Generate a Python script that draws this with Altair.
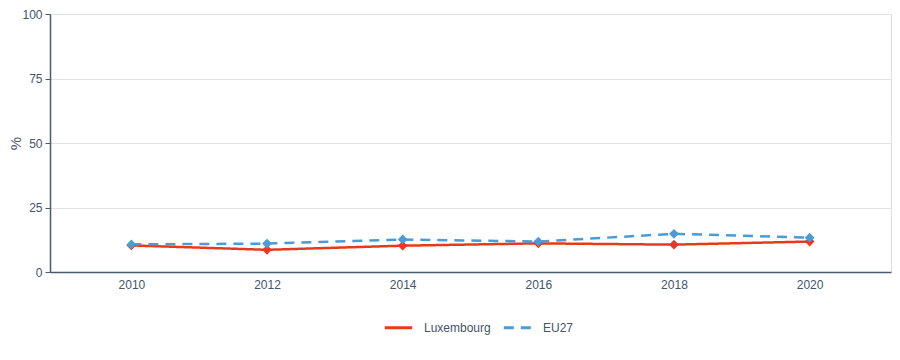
import altair as alt
import pandas as pd

years = [2010, 2012, 2014, 2016, 2018, 2020]
luxembourg = [10.3, 8.6, 10.2, 11.1, 10.6, 11.8]
eu27 = [10.7, 11.0, 12.6, 11.8, 14.8, 13.3]
series = ["Luxembourg", "EU27"]
colors = ["#e63a1a", "#4a9bd6"]
dashes = [[1, 0], [10, 7]]

rows = []
for y, v in zip(years, luxembourg):
    rows.append({"year": y, "value": v, "series": "Luxembourg"})
for y, v in zip(years, eu27):
    rows.append({"year": y, "value": v, "series": "EU27"})
df = pd.DataFrame(rows)

text_col = "#44546a"
axis_col = "#4a5b6c"

x = alt.X("year:Q", scale=alt.Scale(domain=[2008.8, 2021.2], nice=False, zero=False),
          axis=alt.Axis(values=years, format="d", title=None, grid=False, ticks=False,
                        labelColor=text_col, labelFontSize=12, labelPadding=7,
                        domainColor=axis_col, domainWidth=1.5))
y = alt.Y("value:Q", scale=alt.Scale(domain=[0, 100], nice=False),
          axis=alt.Axis(values=[0, 25, 50, 75, 100], title="%", titleColor=text_col,
                        titleFontSize=15, titleFontWeight="normal",
                        titleX=-35, titleY=129, titleBaseline="middle", titleAngle=270,
                        labelColor=text_col, labelFontSize=12, labelPadding=3,
                        tickColor=axis_col, tickSize=5, domainColor=axis_col, domainWidth=1.5,
                        gridColor="#e2e2e2", gridWidth=1))
color = alt.Color("series:N", scale=alt.Scale(domain=series, range=colors),
                  legend=alt.Legend(title=None, orient="none", direction="horizontal",
                                    legendX=333, legendY=298, symbolType="stroke",
                                    symbolStrokeWidth=3, symbolSize=750,
                                    labelColor=text_col, labelFontSize=12,
                                    columnPadding=6, labelOffset=10))
dash = alt.StrokeDash("series:N", scale=alt.Scale(domain=series, range=dashes), legend=None)

line = alt.Chart(df).mark_line(strokeWidth=2.5).encode(x=x, y=y, color=color, strokeDash=dash)
pts = alt.Chart(df).mark_point(shape="diamond", filled=True, size=95, opacity=1).encode(
    x=x, y=y, color=alt.Color("series:N", scale=alt.Scale(domain=series, range=colors), legend=None))

chart = alt.layer(line, pts).properties(
    width=841, height=258,
    autosize=alt.AutoSizeParams(type="none"),
    padding={"left": 42, "top": 6, "right": 1, "bottom": 80},
).configure_view(stroke=None).configure(font="Liberation Sans")

chart.save("out.html", embed_options={"renderer": "svg", "actions": False})
